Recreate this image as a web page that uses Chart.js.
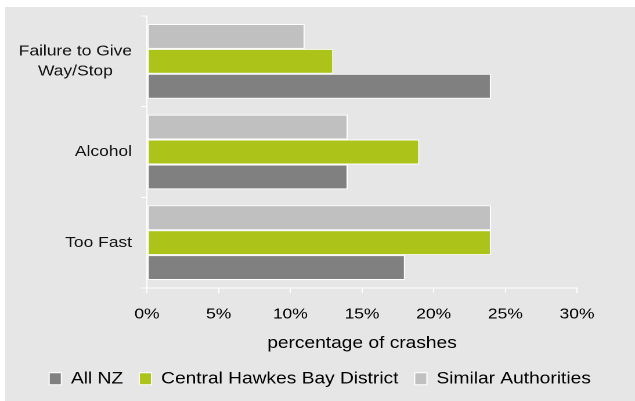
<!DOCTYPE html>
<html><head><meta charset="utf-8">
<script src="https://cdn.jsdelivr.net/npm/chart.js@4.4.1/dist/chart.umd.min.js"></script>
<style>
html,body{margin:0;padding:0;background:#fff;overflow:hidden;width:635px;height:401px;}
#wrap{position:absolute;left:0;top:0;width:547px;height:401px;transform:scaleX(1.16088);transform-origin:0 0;}
</style></head><body>
<div id="wrap"><canvas id="c"></canvas></div>
<script>
// ---- data ----
const categories = [['Failure to Give', 'Way/Stop'], 'Alcohol', 'Too Fast'];
const seriesNames = ['All NZ', 'Central Hawkes Bay District', 'Similar Authorities'];
const allNZ = [24, 14, 18];
const centralHawkesBay = [13, 19, 24];
const similarAuthorities = [11, 14, 24];
const xTickMin = 0;
const xTickMax = 30;
const xTickStep = 5;
const xTitle = 'percentage of crashes';

// ---- layout constants (unstretched canvas coordinates) ----
const S = 635 / 547;
const FONT = '"Liberation Sans", Arial, sans-serif';

const bgPlugin = {
  id: 'bg',
  beforeDraw(chart) {
    const ctx = chart.ctx;
    ctx.save();
    ctx.fillStyle = '#e6e6e6';
    ctx.fillRect(5 / S, 7, chart.width, chart.height);
    ctx.restore();
  }
};

const yLabelPlugin = {
  id: 'ylabels',
  afterDraw(chart) {
    const ctx = chart.ctx;
    const ys = chart.scales.y;
    const xr = 132 / S;
    const lh = 20;
    ctx.save();
    ctx.font = '15px ' + FONT;
    ctx.fillStyle = '#111';
    ctx.textAlign = 'center';
    ctx.textBaseline = 'middle';
    categories.forEach((lab, i) => {
      const lines = Array.isArray(lab) ? lab : [lab];
      const w = Math.max(...lines.map(l => ctx.measureText(l).width));
      const cx = xr - w / 2;
      const yc = ys.getPixelForValue(i);
      lines.forEach((l, k) => {
        ctx.fillText(l, cx, yc + (k - (lines.length - 1) / 2) * lh);
      });
    });
    ctx.restore();
  }
};

const common = { borderColor: '#ffffff', borderWidth: 1, borderSkipped: false,
                 barPercentage: 1.0, categoryPercentage: 0.824 };

new Chart(document.getElementById('c'), {
  type: 'bar',
  data: {
    labels: categories,
    datasets: [
      Object.assign({ label: seriesNames[2], data: similarAuthorities, backgroundColor: '#c0c0c0' }, common),
      Object.assign({ label: seriesNames[1], data: centralHawkesBay, backgroundColor: '#acc319' }, common),
      Object.assign({ label: seriesNames[0], data: allNZ, backgroundColor: '#808080' }, common)
    ]
  },
  options: {
    indexAxis: 'y',
    responsive: true,
    maintainAspectRatio: false,
    animation: false,
    devicePixelRatio: 2,
    layout: { padding: { left: 5 / S, right: 0, top: 16, bottom: 4 } },
    plugins: {
      legend: {
        position: 'bottom',
        reverse: true,
        labels: {
          boxWidth: 10.5, boxHeight: 12, padding: 14,
          color: '#000', font: { family: FONT, size: 16.5 }
        }
      },
      tooltip: { enabled: false }
    },
    scales: {
      x: {
        type: 'linear',
        min: xTickMin, max: xTickMax,
        grid: { drawOnChartArea: false, color: '#ffffff', tickLength: 5, lineWidth: 1 },
        border: { color: '#ffffff', width: 1 },
        ticks: {
          stepSize: xTickStep, padding: 12.5, color: '#000',
          font: { family: FONT, size: 15 },
          callback: v => v + '%'
        },
        title: { display: true, text: xTitle, color: '#000',
                 font: { family: FONT, size: 16.5 }, padding: { top: 0, bottom: 3 } },
        afterFit: s => { s.height = 68.5; }
      },
      y: {
        type: 'category',
        position: 'left',
        offset: true,
        grid: { offset: true, drawOnChartArea: false, color: '#ffffff', tickLength: 5, lineWidth: 1 },
        border: { color: '#ffffff', width: 1 },
        ticks: { display: false },
        afterFit: s => { s.width = 147 / S - 5 / S; }
      },
      y2: {
        type: 'category',
        position: 'right',
        display: true,
        grid: { display: false },
        border: { display: false },
        ticks: { display: false },
        afterFit: s => { s.width = 547 - 577 / S; }
      }
    }
  },
  plugins: [bgPlugin, yLabelPlugin]
});
</script>
</body></html>
